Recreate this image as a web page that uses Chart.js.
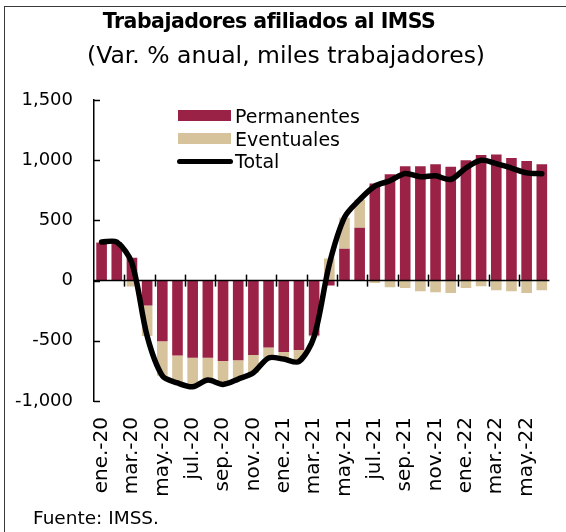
<!DOCTYPE html>
<html><head><meta charset="utf-8">
<script src="https://cdn.jsdelivr.net/npm/chart.js@4/dist/chart.umd.min.js"></script>
<style>
html,body{margin:0;padding:0;width:566px;height:532px;overflow:hidden;background:#fff;font-family:"DejaVu Sans",sans-serif;}
#cv{position:absolute;left:0;top:0;}
#frame{position:absolute;left:4px;top:6px;width:700px;height:700px;border-left:1.5px solid #3a3a3a;border-top:1.5px solid #3a3a3a;}
.t{position:absolute;white-space:nowrap;color:#000;line-height:1;}
#legend .item{position:absolute;left:0;height:20px;}
#legend .sw{position:absolute;left:0;}
#legend .lb{position:absolute;left:58px;font-size:19px;line-height:20px;top:0;white-space:nowrap;}
</style></head>
<body>
<div id="frame"></div>
<canvas id="cv" width="582" height="532"></canvas>
<div class="t" id="title" style="font-weight:bold;font-size:20.5px;letter-spacing:-0.5px;left:269px;top:11px;transform:translateX(-50%);">Trabajadores afiliados al IMSS</div>
<div class="t" id="sub" style="font-size:23.5px;left:286px;top:44px;transform:translateX(-50%);">(Var. % anual, miles trabajadores)</div>
<div class="t" id="src" style="font-size:18.5px;left:33px;top:509px;">Fuente: IMSS.</div>
<div id="legend" style="position:absolute;left:177px;top:106px;"></div>
<script>
const categories = ["ene.-20","feb.-20","mar.-20","abr.-20","may.-20","jun.-20","jul.-20","ago.-20","sep.-20","oct.-20","nov.-20","dic.-20",
  "ene.-21","feb.-21","mar.-21","abr.-21","may.-21","jun.-21","jul.-21","ago.-21","sep.-21","oct.-21","nov.-21","dic.-21",
  "ene.-22","feb.-22","mar.-22","abr.-22","may.-22","jun.-22"];
const permanentes = [315,318,190,-207,-504,-622,-640,-640,-667,-661,-617,-556,-592,-576,-455,-41,264,438,806,884,950,950,967,945,1000,1044,1047,1019,994,967];
const eventuales  = [5,3,-50,-253,-286,-229,-239,-190,-193,-160,-150,-85,-57,-95,-10,183,258,233,-20,-55,-61,-88,-97,-102,-61,-47,-80,-88,-102,-80];
const total       = [320,320,145,-460,-790,-850,-882,-826,-862,-818,-765,-642,-652,-672,-465,135,525,672,785,829,890,862,870,840,935,1000,972,935,895,888];
const yTicks = [-1000,-500,0,500,1000,1500];
const seriesNames = ["Permanentes","Eventuales","Total"];
const colors = {perm:"#9B2247", event:"#D6C29B", total:"#000000"};

Chart.defaults.font.family = '"DejaVu Sans", sans-serif';
Chart.defaults.color = '#000';

const axisPlugin = {
  id:'axisDeco',
  beforeDatasetDraw(chart, args){
    if (args.index !== 2) return;
    const ctx = chart.ctx, xs = chart.scales.x, ys = chart.scales.y, ca = chart.chartArea;
    const y0 = ys.getPixelForValue(0);
    ctx.save();
    ctx.strokeStyle = '#000'; ctx.lineWidth = 1.5;
    ctx.beginPath(); ctx.moveTo(ca.left, y0); ctx.lineTo(ca.right, y0); ctx.stroke();
    for (let i = 2; i < categories.length; i += 2) {
      const x = Math.round((xs.getPixelForValue(i-1) + xs.getPixelForValue(i)) / 2) + 0.5;
      ctx.beginPath(); ctx.moveTo(x, y0 - 6); ctx.lineTo(x, y0 + 6); ctx.stroke();
    }
    ctx.restore();
  },
  afterDraw(chart){
    const ctx = chart.ctx, ys = chart.scales.y, ca = chart.chartArea;
    ctx.save();
    ctx.strokeStyle = '#000'; ctx.lineWidth = 1.5;
    yTicks.forEach(v => {
      const y = Math.round(ys.getPixelForValue(v)) + 0.5;
      ctx.beginPath(); ctx.moveTo(ca.left, y); ctx.lineTo(ca.left + 6, y); ctx.stroke();
    });
    ctx.restore();
  }
};

const chart = new Chart(document.getElementById('cv'), {
  data: {
    labels: categories,
    datasets: [
      {type:'bar', label:seriesNames[0], data:permanentes, backgroundColor:colors.perm, stack:'bars', order:2, barPercentage:0.7, categoryPercentage:1},
      {type:'bar', label:seriesNames[1], data:eventuales, backgroundColor:colors.event, stack:'bars', order:2, barPercentage:0.7, categoryPercentage:1},
      {type:'line', label:seriesNames[2], data:total, borderColor:colors.total, borderWidth:5.5, pointRadius:0, tension:0.3,
       borderCapStyle:'round', borderJoinStyle:'round', stack:'line', order:0, fill:false}
    ]
  },
  options: {
    responsive:false, animation:false, devicePixelRatio:1,
    layout:{padding:{top:100, left:0, right:11, bottom:0}},
    plugins:{legend:{display:false}, tooltip:{enabled:false}, title:{display:false}},
    scales:{
      x:{stacked:true, grid:{display:false, drawTicks:false}, border:{display:false},
         ticks:{autoSkip:false, maxRotation:90, minRotation:90, padding:16, font:{size:20},
           callback:function(v,i){ return i % 2 === 0 ? categories[i] : ''; }},
         afterFit(s){ s.height = 131; }},
      y:{stacked:true, min:-1000, max:1500,
         grid:{display:false, drawTicks:false},
         border:{display:true, color:'#000', width:1.5},
         ticks:{stepSize:500, padding:21, font:{size:18},
           callback:v => Number(v).toLocaleString('en-US')},
         afterFit(s){ s.width = 94; }}
    }
  },
  plugins:[axisPlugin]
});

// HTML legend built from datasets
const lg = document.getElementById('legend');
chart.data.datasets.forEach((ds, i) => {
  const it = document.createElement('div'); it.className = 'item'; it.style.top = (i*22.5) + 'px';
  const sw = document.createElement('div'); sw.className = 'sw';
  if (ds.type === 'bar') {
    sw.style.cssText += 'left:1px;top:4px;width:53px;height:11px;background:' + ds.backgroundColor;
  } else {
    sw.style.cssText += 'left:0;top:8px;width:56px;height:5px;border-radius:3px;background:' + ds.borderColor;
  }
  const lb = document.createElement('div'); lb.className = 'lb'; lb.textContent = ds.label;
  it.appendChild(sw); it.appendChild(lb); lg.appendChild(it);
});
</script>
</body></html>
